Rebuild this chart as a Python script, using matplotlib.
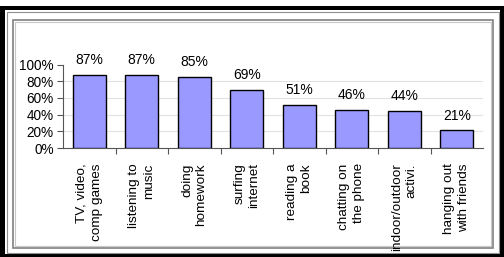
import matplotlib.pyplot as plt
from matplotlib.patches import Rectangle
from matplotlib.ticker import PercentFormatter

plt.rcParams['font.family'] = ['Liberation Sans', 'DejaVu Sans']

BAR_COL = "#9999ff"

categories = ["TV, video,\ncomp games", "listening to\nmusic", "doing\nhomework",
              "surfing\ninternet", "reading a\nbook", "chatting on\nthe phone",
              "indoor/outdoor\nactivi.", "hanging out\nwith friends"]
values = [87, 87, 85, 69, 51, 46, 44, 21]
yticks = [0, 20, 40, 60, 80, 100]

W, H = 504, 257
fig = plt.figure(figsize=(W / 100, H / 100), dpi=100)


def box(x0, y0, x1, y1, **kw):
    # pixel coords, y measured from the top
    r = Rectangle((x0 / W, 1 - y1 / H), (x1 - x0) / W, (y1 - y0) / H,
                  transform=fig.transFigure, zorder=-5, **kw)
    fig.patches.append(r)


# frame around the chart
box(0, 6, 504, 257, facecolor="black", edgecolor="none")
box(5, 9.5, 500, 254, facecolor="white", edgecolor="none")
box(6.5, 11.5, 498.5, 252.5, facecolor="none", edgecolor="#909090", lw=0.8)
box(12.5, 19.5, 492.5, 247.5, facecolor="none", edgecolor="#808080", lw=1.2)
box(14.5, 21.5, 490.5, 245.5, facecolor="none", edgecolor="#c8c8c8", lw=0.8)

ax = fig.add_axes([63 / W, (H - 148) / H, 420 / W, 83.5 / H])
ax.patch.set_alpha(0)
x = range(len(values))
ax.bar(x, values, width=0.63, color=BAR_COL, edgecolor="black", linewidth=1.0, zorder=3)
for i, v in enumerate(values):
    ax.text(i, v + 9.5, f"{v}%", ha="center", va="bottom", fontsize=10)

ax.set_xlim(-0.5, len(values) - 0.5)
ax.set_ylim(0, 100)
ax.set_yticks(yticks)
ax.yaxis.set_major_formatter(PercentFormatter(decimals=0))
ax.tick_params(axis="y", labelsize=9.8, length=4, width=0.8, color="#555555", pad=2.5)
ax.set_xticks([i + 0.5 for i in range(len(values) - 1)], minor=False)
ax.set_xticks(list(x), minor=True)
ax.set_xticklabels([])
ax.set_xticklabels(categories, minor=True, rotation=90, fontsize=9.7,
                   multialignment="right", linespacing=1.3)
ax.tick_params(axis="x", which="major", length=4, width=0.8, color="#555555")
ax.tick_params(axis="x", which="minor", length=0, pad=11)
for g in yticks[1:-1]:
    ax.axhline(g, color="#e2e2e2", lw=0.8, zorder=0)
for s in ["top", "right"]:
    ax.spines[s].set_visible(False)
ax.spines["left"].set_color("#555555")
ax.spines["bottom"].set_color("#555555")
ax.spines["left"].set_linewidth(0.8)
ax.spines["bottom"].set_linewidth(0.8)

fig.savefig("out.png", dpi=100)
